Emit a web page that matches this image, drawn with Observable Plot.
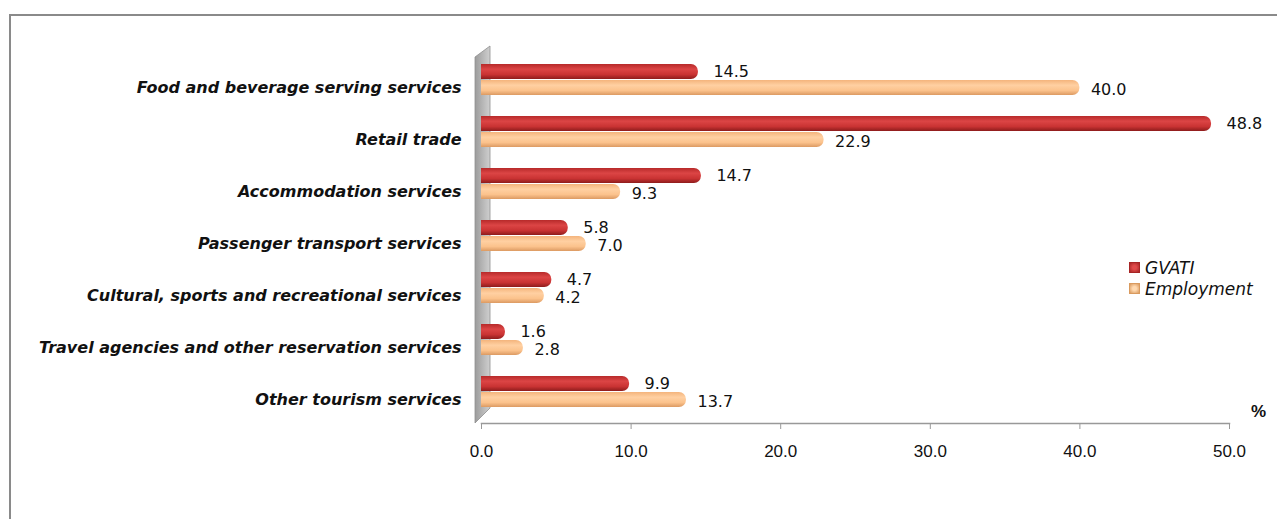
<!DOCTYPE html>
<html>
<head>
<meta charset="utf-8">
<script src="https://cdn.jsdelivr.net/npm/d3@7"></script>
<script src="https://cdn.jsdelivr.net/npm/@observablehq/plot@0.6"></script>
<style>
  html, body { margin: 0; padding: 0; background: #fff; overflow: hidden; }
  #wrap { position: relative; width: 1277px; height: 519px; }
  #frame { position: absolute; left: 9px; top: 14px; width: 1400px; height: 600px;
           border-top: 2px solid #8a8a8a; border-left: 2px solid #8a8a8a; }
  #chart { position: absolute; left: 0; top: 0; }
  .legend { position: absolute; left: 1129px; font-family: "DejaVu Sans", sans-serif;
            font-style: italic; font-size: 17px; color: #111; }
  .legend div { display: flex; align-items: center; height: 21px; }
  .legend span.sw { display: inline-block; width: 9px; height: 9px; margin-right: 5px; }
  #pct { position: absolute; left: 1251px; top: 402px; font-family: "Liberation Sans", sans-serif;
         font-weight: bold; font-size: 17px; color: #111; }
</style>
</head>
<body>
<div id="wrap">
  <div id="frame"></div>
  <div id="chart"></div>
  <div class="legend" id="legend" style="top:257px"></div>
  <div id="pct">%</div>
</div>
<script>
const categories = [
  "Food and beverage serving services",
  "Retail trade",
  "Accommodation services",
  "Passenger transport services",
  "Cultural, sports and recreational services",
  "Travel agencies and other reservation services",
  "Other tourism services"
];
const gvati = [14.5, 48.8, 14.7, 5.8, 4.7, 1.6, 9.9];
const employment = [40.0, 22.9, 9.3, 7.0, 4.2, 2.8, 13.7];
const xTicks = [0, 10, 20, 30, 40, 50];
const seriesNames = ["GVATI", "Employment"];

const rows = categories.map((c, i) => ({cat: c, gvati: gvati[i], employment: employment[i]}));

function defsMark() {
  const g = d3.create("svg:g");
  const defs = g.append("defs");
  const gr = defs.append("linearGradient").attr("id", "gG").attr("x1", 0).attr("y1", 0).attr("x2", 0).attr("y2", 1);
  gr.append("stop").attr("offset", "0%").attr("stop-color", "#b72a2a");
  gr.append("stop").attr("offset", "35%").attr("stop-color", "#dc4545");
  gr.append("stop").attr("offset", "70%").attr("stop-color", "#c93333");
  gr.append("stop").attr("offset", "100%").attr("stop-color", "#8e1c1c");
  const ge = defs.append("linearGradient").attr("id", "gE").attr("x1", 0).attr("y1", 0).attr("x2", 0).attr("y2", 1);
  ge.append("stop").attr("offset", "0%").attr("stop-color", "#f4b47c");
  ge.append("stop").attr("offset", "35%").attr("stop-color", "#ffd0a2");
  ge.append("stop").attr("offset", "70%").attr("stop-color", "#fbc28c");
  ge.append("stop").attr("offset", "100%").attr("stop-color", "#dc9a62");
  const gw = defs.append("linearGradient").attr("id", "gW").attr("x1", 0).attr("y1", 0).attr("x2", 1).attr("y2", 0);
  gw.append("stop").attr("offset", "0%").attr("stop-color", "#9c9c9c");
  gw.append("stop").attr("offset", "100%").attr("stop-color", "#cfcfcf");
  return g.node();
}

function wallMark(index, scales) {
  const x0 = scales.x(0);
  const yFirst = scales.y(categories[0]);
  const step = scales.y(categories[1]) - yFirst;
  const yLast = scales.y(categories[categories.length - 1]) + step;
  const top = yFirst - 7, bot = yLast + 6;
  const g = d3.create("svg:g");
  g.append("path")
    .attr("d", `M${x0 - 6},${top + 11} L${x0 + 9},${top} L${x0 + 9},${bot - 15} L${x0 - 6},${bot} Z`)
    .attr("fill", "url(#gW)").attr("stroke", "#8f8f8f").attr("stroke-width", 0.8);
  return g.node();
}

const plot = Plot.plot({
  width: 1277,
  height: 519,
  marginLeft: 481,
  marginRight: 48,
  marginTop: 45,
  marginBottom: 96,
  style: {background: "transparent", overflow: "visible"},
  x: {domain: [0, 50], axis: null},
  y: {domain: categories, range: [53, 417], padding: 0, axis: null},
  marks: [
    defsMark,
    wallMark,
    Plot.barX(rows, {x: "gvati", y: "cat", insetTop: 11, insetBottom: 26, fill: "url(#gG)", rx: 7}),
    Plot.barX(rows, {x1: 0, x2: d => d.gvati / 2, y: "cat", insetTop: 11, insetBottom: 26, fill: "url(#gG)"}),
    Plot.barX(rows, {x: "employment", y: "cat", insetTop: 27, insetBottom: 10, fill: "url(#gE)", rx: 7}),
    Plot.barX(rows, {x1: 0, x2: d => d.employment / 2, y: "cat", insetTop: 27, insetBottom: 10, fill: "url(#gE)"}),
    Plot.text(rows, {x: "gvati", y: "cat", text: d => d.gvati.toFixed(1), textAnchor: "start", dx: 15, dy: -8,
      fontSize: 16, fontFamily: "DejaVu Sans", fill: "#111"}),
    Plot.text(rows, {x: "employment", y: "cat", text: d => d.employment.toFixed(1), textAnchor: "start", dx: 11, dy: 10,
      fontSize: 16, fontFamily: "DejaVu Sans", fill: "#111"}),
    Plot.axisY({label: null, tickSize: 0, tickPadding: 20, dy: 8, fontSize: 16, fontFamily: "DejaVu Sans",
      fontWeight: "bold", fontStyle: "italic", fill: "#111"}),
    Plot.axisX({ticks: xTicks, tickFormat: d => d.toFixed(1), label: null, tickSize: 6, tickPadding: 15,
      fontSize: 17, fontFamily: "Liberation Sans", stroke: "#999", fill: "#111"}),
    Plot.frame({anchor: "bottom", stroke: "#999", strokeWidth: 1.5})
  ]
});
document.getElementById("chart").appendChild(plot);

const colors = {GVATI: ["#e04a4a", "#a72525"], Employment: ["#ffd9b0", "#d99a5e"]};
const leg = d3.select("#legend");
seriesNames.forEach(n => {
  const row = leg.append("div");
  row.append("span").attr("class", "sw")
     .style("background", `radial-gradient(circle, ${colors[n][0]} 30%, ${colors[n][1]} 100%)`)
     .style("border", `1px solid ${colors[n][1]}`);
  row.append("span").text(n);
});
</script>
</body>
</html>
